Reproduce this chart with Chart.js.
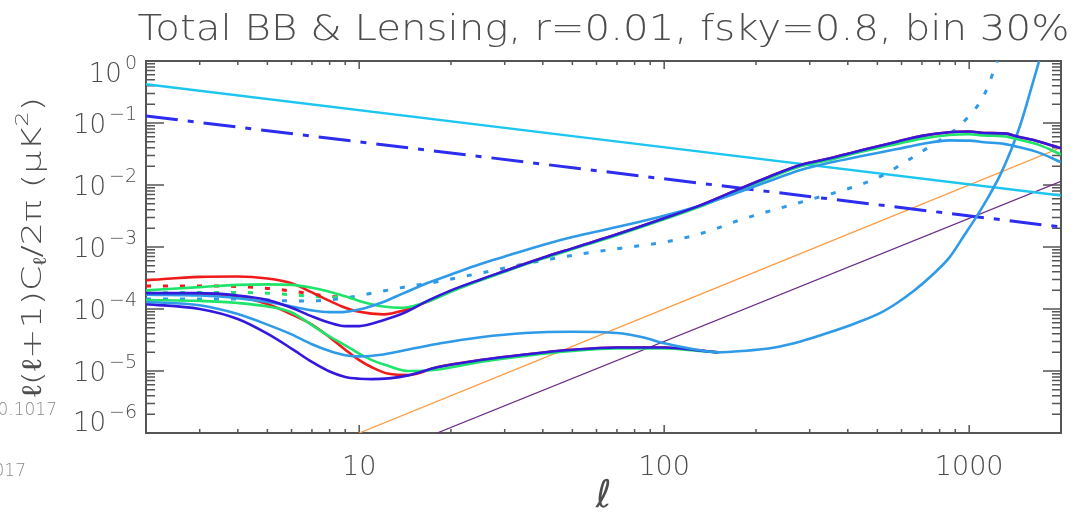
<!DOCTYPE html>
<html>
<head>
<meta charset="utf-8">
<script src="https://cdn.jsdelivr.net/npm/chart.js@4/dist/chart.umd.min.js"></script>
<style>
  html, body { margin: 0; padding: 0; background: #fff; }
</style>
</head>
<body>
<canvas id="myChart" width="1077" height="520"></canvas>
<script>
// ---- data (ell, l(l+1)C_l/2pi in uK^2) ----
const titleText = "Total BB & Lensing, r=0.01, fsky=0.8, bin 30%";

const xTickValues = [10, 100, 1000];
const xTickLabels = ["10", "100", "1000"];
const yTickExps = [0, -1, -2, -3, -4, -5, -6];

// straight power laws
const cyanEll = [2, 2000];
const cyanVal = [0.42, 0.0068];
const dashEll = [2, 2000];
const dashVal = [0.13, 0.0021];
const orangeEll = [10, 2000];
const orangeVal = [1e-6, 0.04];
const purpleEll = [18, 2000];
const purpleVal = [1e-6, 0.0115];

// upper group (total)
const hiEll = [2, 3, 4, 5, 6, 7, 8, 9, 10, 12, 14, 17, 20, 25, 30, 40, 50, 70, 100, 130, 175, 220, 280, 350, 440, 580, 700, 860, 1000, 1120, 1300, 1450, 1700, 2000];
const darkHi = [1.8e-4, 1.8e-4, 1.65e-4, 1.4e-4, 1.05e-4, 7.6e-5, 6.0e-5, 5.3e-5, 5.3e-5, 6.6e-5, 8.6e-5, 1.4e-4, 2.0e-4, 3.0e-4, 4.1e-4, 6.7e-4, 9.5e-4, 1.6e-3, 2.9e-3, 4.6e-3, 8.5e-3, 0.0135, 0.021, 0.027, 0.036, 0.05, 0.062, 0.071, 0.073, 0.069, 0.068, 0.06, 0.05, 0.039];
const lightHi = [1.7e-4, 1.65e-4, 1.5e-4, 1.3e-4, 1.1e-4, 9.5e-5, 8.9e-5, 9.0e-5, 9.8e-5, 1.3e-4, 1.8e-4, 2.7e-4, 3.6e-4, 5.3e-4, 7.0e-4, 1.08e-3, 1.45e-3, 2.1e-3, 3.2e-3, 4.6e-3, 7.6e-3, 0.0115, 0.0175, 0.023, 0.029, 0.038, 0.046, 0.0525, 0.052, 0.049, 0.046, 0.041, 0.033, 0.0233];
const greenHi = [2.0e-4, 2.25e-4, 2.45e-4, 2.5e-4, 2.45e-4, 2.2e-4, 1.9e-4, 1.6e-4, 1.35e-4, 1.1e-4, 1.05e-4, 1.35e-4, 1.9e-4, 2.9e-4, 4.0e-4, 6.5e-4, 9.2e-4, 1.55e-3, 2.8e-3, 4.4e-3, 8.1e-3, 0.0128, 0.02, 0.0255, 0.034, 0.046, 0.056, 0.064, 0.066, 0.063, 0.061, 0.054, 0.044, 0.031];
const redHi = [2.9e-4, 3.3e-4, 3.35e-4, 3.1e-4, 2.6e-4, 1.85e-4, 1.35e-4, 1.05e-4, 9.0e-5, 8.2e-5, 9.5e-5, 1.35e-4, 1.95e-4, 2.95e-4, 4.1e-4, 6.7e-4, 9.5e-4, 1.6e-3, 2.9e-3, 4.6e-3, 8.5e-3, 0.0135, 0.021, 0.027, 0.036, 0.05, 0.062, 0.071, 0.073, 0.069, 0.068, 0.06, 0.05, 0.039];

// lower group
const loEll = [2, 3, 4, 5, 6, 7, 8, 9, 10, 11, 12.5, 14.5, 18, 25, 35, 50, 70, 100, 130, 150];
const darkLo = [1.2e-4, 1.0e-4, 6.9e-5, 4.0e-5, 2.3e-5, 1.4e-5, 9.8e-6, 8.0e-6, 7.5e-6, 7.4e-6, 7.6e-6, 8.5e-6, 1.15e-5, 1.5e-5, 1.85e-5, 2.2e-5, 2.4e-5, 2.4e-5, 2.15e-5, 2.0e-5];
const greenLo = [1.4e-4, 1.35e-4, 1.25e-4, 1.1e-4, 8.8e-5, 5.5e-5, 3.6e-5, 2.6e-5, 1.9e-5, 1.5e-5, 1.2e-5, 1.0e-5, 1.05e-5, 1.4e-5, 1.75e-5, 2.1e-5, 2.3e-5, 2.3e-5, 2.1e-5, 2.0e-5];
const redLo = [1.75e-4, 1.75e-4, 1.6e-4, 1.2e-4, 8.2e-5, 5.6e-5, 3.5e-5, 2.2e-5, 1.5e-5, 1.15e-5, 9.0e-6, 8.6e-6, 1.15e-5, 1.5e-5, 1.85e-5, 2.2e-5, 2.4e-5, 2.4e-5, 2.15e-5, 2.0e-5];
const lightLoEll = [2, 3, 4, 5, 6, 7, 8, 9, 10, 12, 15, 18.5, 25, 35, 50, 70, 85, 100, 125, 150, 180, 230, 280, 343, 420, 508, 580, 662, 760, 862, 960, 1062, 1160, 1263, 1370, 1470, 1580, 1696, 1775];
const lightLo = [1.3e-4, 1.15e-4, 8.3e-5, 5.6e-5, 3.9e-5, 2.7e-5, 2.1e-5, 1.8e-5, 1.72e-5, 1.85e-5, 2.3e-5, 2.8e-5, 3.5e-5, 4.1e-5, 4.3e-5, 4.1e-5, 3.5e-5, 2.8e-5, 2.25e-5, 2.0e-5, 2.1e-5, 2.4e-5, 3.0e-5, 4.1e-5, 5.8e-5, 8.5e-5, 1.25e-4, 2.0e-4, 3.6e-4, 6.8e-4, 1.5e-3, 3.2e-3, 6.6e-3, 0.0144, 0.036, 0.092, 0.3, 1.0, 2.2];

// dotted curves
const dotEll = [2, 3, 4, 5, 6, 7, 8, 9];
const redDot = [2.35e-4, 2.35e-4, 2.3e-4, 2.15e-4, 1.95e-4, 1.75e-4, 1.6e-4, 1.55e-4];
const greenDot = [1.8e-4, 1.85e-4, 1.85e-4, 1.8e-4, 1.7e-4, 1.6e-4, 1.55e-4, 1.55e-4];
const blueDotEll = [2, 3, 4, 5, 6, 7, 8, 9, 10, 12, 14, 18, 25, 36, 54, 75, 105, 140, 176, 230, 300, 400, 500, 630, 755, 860, 933, 1000, 1095, 1160, 1213, 1260];
const blueDot = [1.45e-4, 1.45e-4, 1.45e-4, 1.4e-4, 1.35e-4, 1.35e-4, 1.4e-4, 1.5e-4, 1.65e-4, 1.95e-4, 2.25e-4, 2.75e-4, 3.8e-4, 5.5e-4, 7.8e-4, 9.8e-4, 1.25e-3, 1.8e-3, 2.7e-3, 4.0e-3, 5.8e-3, 8.7e-3, 0.013, 0.025, 0.044, 0.066, 0.092, 0.13, 0.232, 0.42, 0.79, 1.3];

// ---- styling ----
const fontFam = "'DejaVu Sans', sans-serif";
const textColor = "#4d4d4d";
const axisColor = "#555555";
const RED = "#f01a1a", GREEN = "#1ee46a", DARK = "#3318de", LIGHT = "#2e9ae8";

function pts(ell, val) {
  return ell.map((l, i) => ({ x: l, y: val[i] }));
}
function curve(ell, val, color, width, extra) {
  return Object.assign({
    data: pts(ell, val),
    borderColor: color,
    borderWidth: width,
    pointRadius: 0,
    fill: false,
    cubicInterpolationMode: "monotone"
  }, extra || {});
}

// draw a run of text pieces (sub/superscripts) centred on x=0, stretched to a width
function drawRuns(ctx, parts, width) {
  let total = 0;
  parts.forEach(p => { ctx.font = "300 " + p.s + "px " + fontFam; p.w = ctx.measureText(p.t).width; total += p.w; });
  const k = width / total;
  ctx.scale(k, 1);
  let cx = -total / 2;
  parts.forEach(p => {
    ctx.font = "300 " + p.s + "px " + fontFam;
    ctx.fillText(p.t, cx, p.dy);
    cx += p.w;
  });
}

// frame + inward IDL style ticks on all four sides, labels and titles
const frameTicks = {
  id: "frameTicks",
  beforeDatasetsDraw(chart) {
    const { ctx, chartArea: a, scales: { x, y } } = chart;
    ctx.save();
    ctx.strokeStyle = axisColor;
    ctx.lineWidth = 1.5;
    ctx.beginPath();
    for (let d = 1; d <= 1000; d *= 10) {
      for (let m = 1; m <= 9; m++) {
        const v = d * m;
        if (v < 2 || v > 2000) continue;
        const px = x.getPixelForValue(v);
        const len = m === 1 ? 8 : 4;
        ctx.moveTo(px, a.bottom); ctx.lineTo(px, a.bottom - len);
        ctx.moveTo(px, a.top); ctx.lineTo(px, a.top + len);
      }
    }
    for (let e = -6; e <= 0; e++) {
      for (let m = 1; m <= 9; m++) {
        const v = m * Math.pow(10, e);
        if (v > 1) continue;
        const py = y.getPixelForValue(v);
        const len = m === 1 ? 18 : 9;
        ctx.moveTo(a.left, py); ctx.lineTo(a.left + len, py);
        ctx.moveTo(a.right, py); ctx.lineTo(a.right - len, py);
      }
    }
    ctx.stroke();
    ctx.lineWidth = 2;
    ctx.strokeRect(a.left, a.top, a.right - a.left, a.bottom - a.top);
    ctx.restore();
  },
  afterDraw(chart) {
    const { ctx, chartArea: a, scales: { y } } = chart;
    ctx.save();
    ctx.fillStyle = textColor;
    ctx.textBaseline = "middle";
    ctx.textAlign = "left";

    // title, centred over the plot
    ctx.save();
    ctx.translate((a.left + a.right) / 2, 31);
    drawRuns(ctx, [{ t: titleText, s: 35, dy: 0 }], 932);
    ctx.restore();

    // y tick labels 10^n
    const right = a.left - 9;
    yTickExps.forEach(e => {
      const sup = e === 0 ? "0" : "\u2212" + (-e);
      ctx.font = "300 19px " + fontFam;
      const wSup = ctx.measureText(sup).width;
      ctx.font = "300 26px " + fontFam;
      const wBase = ctx.measureText("10").width;
      let cy = y.getPixelForValue(Math.pow(10, e)) + 3;
      if (e === 0) cy += 11;
      if (e === -6) cy -= 12;
      ctx.fillText("10", right - wSup - 3 - wBase, cy);
      ctx.font = "300 19px " + fontFam;
      ctx.fillText(sup, right - wSup, cy - 11);
    });

    // y axis title, rotated, with sub/superscripts
    ctx.save();
    ctx.translate(34, 247);
    ctx.rotate(-Math.PI / 2);
    drawRuns(ctx, [
      { t: "\u2113(\u2113+1)C", s: 27, dy: 0 },
      { t: "\u2113", s: 18, dy: 7 },
      { t: "/2\u03c0 (\u03bcK", s: 27, dy: 0 },
      { t: "2", s: 18, dy: -11 },
      { t: ")", s: 27, dy: 0 }
    ], 300);
    ctx.restore();

    // clipped caption fragments at the left edge of the source image
    ctx.fillStyle = "#8a8a8a";
    ctx.font = "300 17px " + fontFam;
    ctx.textAlign = "right";
    ctx.fillText("10.1017", 57, 411);
    ctx.fillText("2017", 26, 472);
    ctx.restore();
  }
};

const ctx = document.getElementById("myChart").getContext("2d");
new Chart(ctx, {
  type: "line",
  data: {
    datasets: [
      curve(hiEll, darkHi, DARK, 2.6),
      curve(hiEll, lightHi, LIGHT, 2.6),
      curve(hiEll, greenHi, GREEN, 2.6),
      curve(hiEll, redHi, RED, 2.6),
      curve(lightLoEll, lightLo, LIGHT, 2.6),
      curve(loEll, darkLo, DARK, 2.6),
      curve(loEll, greenLo, GREEN, 2.6),
      curve(loEll, redLo, RED, 2.6),
      curve(blueDotEll, blueDot, LIGHT, 3, { borderDash: [5, 12] }),
      curve(dotEll, greenDot, GREEN, 3, { borderDash: [5, 12] }),
      curve(dotEll, redDot, RED, 3, { borderDash: [5, 12] }),
      curve(cyanEll, cyanVal, "#1cc6f0", 2.5),
      curve(dashEll, dashVal, "#2d2df0", 3, { borderDash: [32, 10, 6, 10] }),
      curve(orangeEll, orangeVal, "#ff9a40", 1.3),
      curve(purpleEll, purpleVal, "#6a2c88", 1.3)
    ]
  },
  options: {
    responsive: false,
    animation: false,
    layout: { padding: { left: 0, right: 16, top: 61, bottom: 0 } },
    plugins: {
      legend: { display: false },
      tooltip: { enabled: false },
      title: { display: false }
    },
    scales: {
      x: {
        type: "logarithmic",
        min: 2,
        max: 2000,
        grid: { display: false, drawTicks: false },
        border: { display: false },
        afterBuildTicks: s => { s.ticks = xTickValues.map(v => ({ value: v })); },
        afterFit: s => { s.height = 87; },
        ticks: {
          autoSkip: false,
          maxRotation: 0,
          padding: 19,
          color: textColor,
          font: { family: fontFam, size: 27, weight: "300" },
          callback: v => xTickLabels[xTickValues.indexOf(v)] || ""
        },
        title: {
          display: true,
          text: "\u2113",
          color: textColor,
          font: { family: fontFam, size: 38, style: "italic", weight: "300" },
          padding: { top: 0, bottom: 0 }
        }
      },
      y: {
        type: "logarithmic",
        min: 1e-6,
        max: 1,
        grid: { display: false, drawTicks: false },
        border: { display: false },
        ticks: { display: false },
        afterFit: s => { s.width = 146; }
      }
    }
  },
  plugins: [frameTicks]
});
</script>
</body>
</html>
